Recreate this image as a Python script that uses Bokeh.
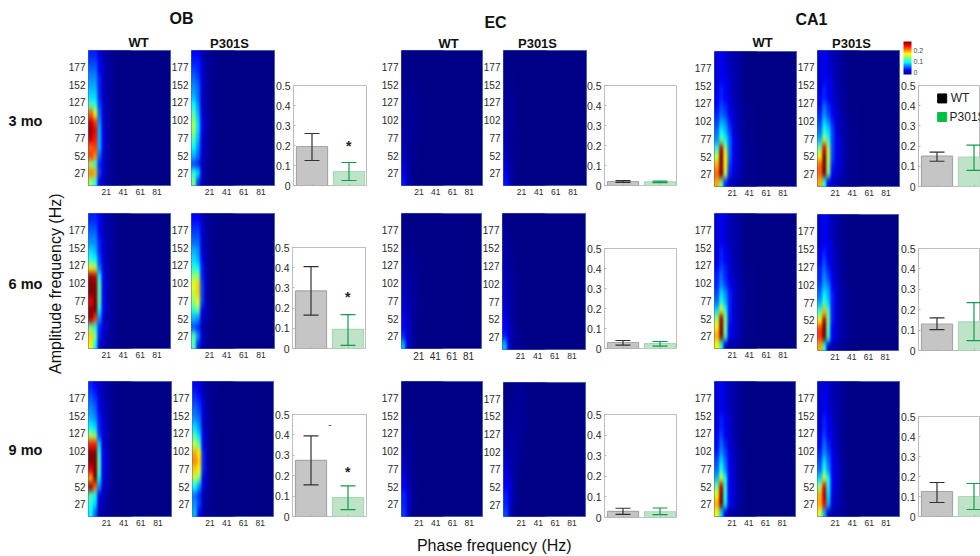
import numpy as np
from bokeh.plotting import figure
from bokeh.layouts import row, column
from bokeh.models import (Range1d, FixedTicker, LinearColorMapper, ColorBar, Whisker, TeeHead,
                          ColumnDataSource)
from bokeh.core.properties import value
from bokeh.embed import file_html
from bokeh.resources import INLINE

# ---- Heat maps: rows run from the top (200 Hz) to the bottom (10 Hz), columns from phase 0 to 40 Hz.
OB_3_WT = [[5,5,3,2,1.6,1.3,1.1,1],[6,6,4,2,1.7,1.3,1.1,1],[7,7,4,2.5,1.7,1.3,1.1,1],[8,8,5,2.5,1.7,1.3,1.1,1],[9,9,5,2.5,1.7,1.3,1.1,1],[10,10,5,2.5,1.7,1.3,1.1,1],[13,12,6,3,1.8,1.3,1.1,1],[22,17,7,3,1.8,1.3,1.1,1],
           [26,23,8,3,1.8,1.3,1.1,1],[27,25,9,3.5,1.8,1.3,1.1,1],[26,24,9,3.5,1.8,1.3,1.1,1],[22,23,9,3.5,1.8,1.3,1.1,1],[23,21,7,3,1.8,1.3,1.1,1],[15,12,5,3,1.7,1.3,1.1,1],[21,20,6,3,1.7,1.3,1.1,1],[15,12,4,2,1.5,1.2,1.1,1]]
OB_3_P = [[4,4,2,1.5,1.3,1.1,1,1],[5,5,3,1.6,1.3,1.1,1,1],[6,5,3,1.7,1.3,1.1,1,1],[7,6,3,1.8,1.3,1.1,1,1],[8,7,3,1.8,1.3,1.1,1,1],[9,7,3,1.8,1.3,1.1,1,1],[11,8,3,1.8,1.3,1.1,1,1],[13,9,3,1.8,1.3,1.1,1,1],
          [15,10,4,2,1.3,1.1,1,1],[15,10,4,2,1.3,1.1,1,1],[13,9,3,1.8,1.3,1.1,1,1],[11,8,3,1.8,1.3,1.1,1,1],[9,7,3,1.8,1.3,1.1,1,1],[6,5,2,1.5,1.2,1.1,1,1],[12,10,3,1.5,1.2,1.1,1,1],[14,6,2,1.4,1.2,1.1,1,1]]
OB_6_WT = [[5,5,4,2.2,1.8,1.5,1.2,1],[6,6,4,2.5,1.8,1.5,1.2,1],[7,7,4,2.5,1.8,1.5,1.2,1],[8,8,5,2.8,1.9,1.5,1.2,1],[10,9,5,3,1.9,1.5,1.2,1],[12,11,6,3,1.9,1.5,1.2,1],[18,16,7,3,1.9,1.5,1.2,1],[27,26,11,4,2,1.5,1.2,1],
           [28,28,13,4,2,1.5,1.2,1],[28,28,13,4,2,1.5,1.2,1],[25,28,13,4,2,1.5,1.2,1],[28,28,11,4,2,1.5,1.2,1],[27,23,8,3,1.9,1.5,1.2,1],[14,11,5,3,1.8,1.5,1.2,1],[19,14,5,3,1.8,1.3,1.1,1],[18,11,3,2,1.5,1.3,1.1,1]]
OB_6_P = [[4,4,2,1.5,1.3,1.1,1,1],[5,5,3,1.6,1.3,1.1,1,1],[6,6,3,1.7,1.3,1.1,1,1],[7,7,3,1.8,1.3,1.1,1,1],[9,8,3,1.8,1.3,1.1,1,1],[10,9,4,1.8,1.3,1.1,1,1],[12,11,5,2,1.3,1.1,1,1],[15,15,5,2,1.3,1.1,1,1],
          [17,19,6,2,1.3,1.1,1,1],[16,19,6,2,1.3,1.1,1,1],[15,17,6,2,1.3,1.1,1,1],[12,14,4,2,1.3,1.1,1,1],[9,8,3,1.8,1.3,1.1,1,1],[6,5,2,1.5,1.2,1.1,1,1],[13,8,3,1.5,1.2,1.1,1,1],[13,5,2,1.4,1.2,1.1,1,1]]
OB_9_WT = [[5,4,3,2,1.7,1.3,1.1,1],[6,5,3,2,1.7,1.3,1.1,1],[7,6,4,2.2,1.7,1.3,1.1,1],[8,7,4,2.5,1.8,1.3,1.1,1],[9,8,5,2.8,1.8,1.3,1.1,1],[11,10,5,3,1.8,1.3,1.1,1],[16,15,6,3,1.8,1.3,1.1,1],[24,24,10,3,1.9,1.3,1.1,1],
           [28,28,12,4,2,1.3,1.1,1],[28,28,13,4,2,1.3,1.1,1],[25,28,13,4,2,1.3,1.1,1],[20,28,11,3,1.9,1.3,1.1,1],[27,22,8,3,1.8,1.3,1.1,1],[13,11,4,2,1.6,1.3,1.1,1],[12,10,3,2,1.5,1.2,1.1,1],[11,7,2,1.5,1.3,1.2,1.1,1]]
OB_9_P = [[4,3,2,1.4,1.2,1.1,1,1],[5,4,2,1.5,1.2,1.1,1,1],[6,5,3,1.6,1.3,1.1,1,1],[7,6,3,1.8,1.3,1.1,1,1],[8,7,3,1.8,1.3,1.1,1,1],[10,8,3,1.8,1.3,1.1,1,1],[13,10,4,2,1.3,1.1,1,1],[16,13,4,2,1.3,1.1,1,1],
          [20,18,5,2,1.3,1.1,1,1],[21,19,5,2,1.3,1.1,1,1],[19,17,5,2,1.3,1.1,1,1],[16,14,4,2,1.3,1.1,1,1],[11,8,3,1.8,1.3,1.1,1,1],[7,5,2,1.5,1.2,1.1,1,1],[8,6,2,1.5,1.2,1.1,1,1],[9,4,2,1.4,1.2,1.1,1,1]]
EC_3_WT = [[1,1,1,1,1,1,1,1],[1,1,1,1,1,1,1,1],[1.1,1.1,1.1,1,1,1,1,1],[1.1,1.1,1.1,1.1,1,1,1,1],[1.2,1.2,1.1,1.1,1,1,1,1],[1.4,1.4,1.3,1.2,1.1,1,1,1],[1.4,1.4,1.3,1.2,1.1,1,1,1],[1.5,1.4,1.3,1.2,1.1,1,1,1],
           [1.6,1.4,1.3,1.2,1.1,1,1,1],[1.7,1.4,1.3,1.2,1.1,1,1,1],[1.8,1.5,1.3,1.2,1.1,1,1,1],[2,1.5,1.3,1.1,1,1,1,1],[2.2,1.5,1.2,1.1,1,1,1,1],[3,1.7,1.2,1.1,1,1,1,1],[3.5,1.8,1.2,1.1,1,1,1,1],[4.5,2,1.2,1,1,1,1,1]]
EC_3_P = [[1,1,1,1,1,1,1,1],[1,1,1,1,1,1,1,1],[1.1,1.1,1,1,1,1,1,1],[1.1,1.1,1.1,1,1,1,1,1],[1.3,1.2,1.1,1,1,1,1,1],[1.5,1.4,1.3,1.1,1,1,1,1],[1.5,1.4,1.3,1.1,1,1,1,1],[1.5,1.4,1.3,1.1,1,1,1,1],
          [1.6,1.4,1.3,1.1,1,1,1,1],[1.7,1.4,1.3,1.1,1,1,1,1],[1.8,1.4,1.2,1.1,1,1,1,1],[2,1.4,1.2,1.1,1,1,1,1],[2.4,1.5,1.2,1.1,1,1,1,1],[3,1.7,1.2,1.1,1,1,1,1],[3.5,1.8,1.2,1.1,1,1,1,1],[4.5,2,1.2,1,1,1,1,1]]
EC_6_WT = [[1,1,1,1,1,1,1,1],[1,1,1,1,1,1,1,1],[1.1,1.1,1,1,1,1,1,1],[1.2,1.1,1.1,1,1,1,1,1],[1.4,1.2,1.2,1.1,1,1,1,1],[1.6,1.5,1.4,1.2,1.1,1,1,1],[1.7,1.5,1.4,1.3,1.1,1,1,1],[1.9,1.6,1.4,1.3,1.1,1,1,1],
           [2.3,1.8,1.5,1.3,1.1,1,1,1],[2.5,1.9,1.5,1.3,1.1,1,1,1],[2.8,2.2,1.6,1.3,1.1,1,1,1],[3,2.4,1.6,1.2,1.1,1,1,1],[3.6,2.6,1.6,1.2,1.1,1,1,1],[4,2.8,1.6,1.2,1,1,1,1],[5,3,1.6,1.2,1,1,1,1],[9,3,1.6,1.1,1,1,1,1]]
EC_6_P = [[1,1,1,1,1,1,1,1],[1.3,1.1,1,1,1,1,1,1],[1.4,1.2,1.1,1,1,1,1,1],[1.5,1.4,1.1,1,1,1,1,1],[1.6,1.4,1.2,1.1,1,1,1,1],[1.7,1.5,1.3,1.1,1,1,1,1],[1.8,1.6,1.4,1.1,1,1,1,1],[2,1.7,1.4,1.1,1,1,1,1],
          [2.4,1.8,1.4,1.1,1,1,1,1],[2.6,1.9,1.4,1.1,1,1,1,1],[2.8,2,1.4,1.1,1,1,1,1],[3,2,1.4,1.2,1,1,1,1],[3.6,2.2,1.4,1.2,1,1,1,1],[4,2.7,1.5,1.2,1,1,1,1],[5,3,1.6,1.3,1.1,1,1,1],[9,3,1.6,1.3,1.1,1,1,1]]
EC_9_WT = [[1,1,1,1,1,1,1,1],[1,1,1,1,1,1,1,1],[1,1,1,1,1,1,1,1],[1.1,1.1,1,1,1,1,1,1],[1.2,1.1,1.1,1,1,1,1,1],[1.4,1.4,1.2,1.1,1,1,1,1],[1.5,1.4,1.3,1.1,1,1,1,1],[1.6,1.4,1.3,1.1,1,1,1,1],
           [1.8,1.5,1.3,1.1,1,1,1,1],[2.4,1.6,1.3,1.1,1,1,1,1],[2.8,1.8,1.3,1.1,1,1,1,1],[3.5,2,1.4,1.1,1,1,1,1],[4,2.6,1.4,1.1,1,1,1,1],[5,3,1.4,1.1,1,1,1,1],[5,3,1.4,1.1,1,1,1,1],[5.5,3,1.2,1,1,1,1,1]]
EC_9_P = [[1,1,1.1,1.3,1.3,1.1,1,1],[1,1.1,1.3,1.4,1.4,1.2,1,1],[1.1,1.3,1.4,1.5,1.4,1.2,1,1],[1.2,1.4,1.5,1.5,1.4,1.2,1,1],[1.4,1.5,1.5,1.5,1.4,1.2,1,1],[1.5,1.6,1.6,1.5,1.3,1.1,1,1],[1.6,1.6,1.6,1.5,1.3,1.1,1,1],[1.8,1.7,1.6,1.4,1.2,1,1,1],
          [2.2,1.8,1.6,1.4,1.2,1,1,1],[2.6,2,1.6,1.3,1.1,1,1,1],[3,2.4,1.6,1.2,1.1,1,1,1],[3.6,2.6,1.6,1.2,1,1,1,1],[4,3,1.6,1.2,1,1,1,1],[5,3,1.6,1.2,1,1,1,1],[5,3,1.4,1.1,1,1,1,1],[6,2.4,1.2,1,1,1,1,1]]
CA1_3_WT = [[3,4,3,2.3,1.9,1.6,1.3,1],[3,4,3,2.4,1.9,1.6,1.3,1],[3,4,3,2.6,2,1.6,1.3,1],[3,4,4,2.8,2,1.6,1.3,1],[3,5,4,3,2,1.7,1.3,1],[4,5,4,3,2.2,1.7,1.3,1],[4,6,5,3.6,2.5,1.8,1.5,1.1],[5,7,6,4,2.7,1.9,1.5,1.1],
            [6,9,8,5,3,2,1.6,1.1],[7,11,9,6,3,2,1.6,1.1],[8,14,11,7,3.6,2.5,1.7,1.2],[12,26,15,7,3.6,2.5,1.7,1.2],[16,28,18,7,3.6,2.5,1.7,1.2],[20,28,18,6,3.4,2.5,1.7,1.2],[22,28,16,5,3,2.2,1.7,1.2],[20,14,5,3,2,1.7,1.4,1.1]]
CA1_3_P = [[3,4,3,2.2,1.8,1.4,1.2,1],[3,4,3,2.3,1.8,1.4,1.2,1],[3,4,3,2.5,1.9,1.5,1.2,1],[3,4,4,2.8,2,1.6,1.2,1],[3,5,4,3,2,1.7,1.3,1],[4,5,4,3,2.2,1.7,1.3,1],[4,7,5,3.6,2.5,1.8,1.4,1.1],[5,8,6,4,2.7,1.9,1.5,1.1],
           [6,10,8,5,3,2,1.6,1.1],[7,12,10,6,3,2,1.6,1.1],[9,16,12,6,3.6,2.5,1.7,1.2],[14,25,15,6,3.6,2.5,1.7,1.2],[18,28,16,6,3.6,2.5,1.7,1.2],[22,28,15,5,3.2,2.5,1.7,1.2],[22,28,14,4,3,2.2,1.7,1.2],[20,12,4,3,2,1.7,1.4,1.1]]
CA1_6_WT = [[3,4,3,2.3,1.9,1.6,1.3,1],[3,4,3,2.3,1.9,1.6,1.3,1],[3,4,3,2.4,1.9,1.6,1.3,1],[3,4,3,2.6,1.9,1.6,1.3,1],[3,5,4,2.8,2,1.6,1.3,1],[3,5,4,3,2.1,1.6,1.3,1],[4,6,5,3,2.3,1.7,1.4,1.1],[5,7,5,3.6,2.4,1.8,1.5,1.1],
            [5,8,6,4,2.8,2,1.6,1.1],[6,10,8,5,3,2,1.6,1.1],[7,12,9,5,3,2,1.6,1.1],[10,18,12,5,3,2,1.6,1.1],[15,27,14,5,3,2,1.6,1.1],[18,28,14,4,3,2.4,1.6,1.1],[20,28,13,4,3,2,1.6,1.1],[18,12,3,2,1.8,1.5,1.3,1]]
CA1_6_P = [[3,4,3,2.2,1.8,1.4,1.2,1],[3,4,3,2.3,1.8,1.4,1.2,1],[3,4,3,2.4,1.8,1.4,1.2,1],[3,4,4,2.6,1.9,1.5,1.2,1],[4,5,4,3,2,1.6,1.2,1],[4,6,4,3,2.1,1.6,1.2,1],[5,7,5,3,2.3,1.7,1.3,1],[5,8,6,4,2.4,1.8,1.3,1],
           [6,9,8,4,2.8,1.9,1.4,1],[7,11,9,5,3,2,1.6,1.1],[9,13,10,5,3,2,1.6,1.1],[13,20,13,5,3,2,1.6,1.1],[18,27,14,5,3,2,1.6,1.1],[23,28,13,4,3,2,1.6,1.1],[23,28,12,4,3,2,1.6,1.1],[20,12,3,2,1.8,1.4,1.2,1]]
CA1_9_WT = [[3,4,3,2.3,1.9,1.6,1.3,1],[3,4,3,2.3,1.9,1.6,1.3,1],[3,4,3,2.3,1.9,1.6,1.3,1],[3,4,3,2.5,1.9,1.6,1.3,1],[3,5,4,2.7,2,1.6,1.3,1],[3,5,4,2.8,2,1.6,1.3,1],[4,6,4,3,2.2,1.6,1.3,1],[4,7,5,3,2.2,1.6,1.3,1],
            [5,8,6,4,2.5,1.7,1.3,1],[6,10,7,4,2.8,1.8,1.3,1],[7,12,8,4,3,1.8,1.3,1],[9,17,11,4,3,1.8,1.3,1],[14,26,12,4,3,2,1.5,1],[18,28,12,4,3,2,1.5,1],[20,28,11,4,3,2,1.5,1],[18,10,3,2,1.8,1.4,1.2,1]]
CA1_9_P = [[3,3,3,2.2,1.8,1.4,1.2,1],[3,4,3,2.2,1.8,1.4,1.2,1],[3,4,3,2.2,1.8,1.4,1.2,1],[3,4,3,2.3,1.8,1.4,1.2,1],[3,5,4,2.5,1.9,1.4,1.2,1],[3,5,4,2.8,2,1.4,1.2,1],[4,6,4,3,2.1,1.4,1.2,1],[4,7,5,3,2.2,1.5,1.2,1],
           [5,8,6,4,2.5,1.7,1.2,1],[6,10,7,4,2.6,1.7,1.2,1],[7,12,8,4,2.8,1.7,1.2,1],[10,17,11,4,2.8,1.7,1.2,1],[15,25,11,4,2.8,1.7,1.2,1],[20,27,10,3,2.6,1.7,1.2,1],[20,25,9,3,2.6,1.7,1.2,1],[17,9,3,2,1.8,1.4,1.2,1]]

# ---- Bars: values per age (3, 6, 9 mo)
OB_wt = [0.195, 0.285, 0.275]
OB_wt_hi = [0.26, 0.405, 0.395]
OB_wt_lo = [0.125, 0.165, 0.155]
OB_p = [0.07, 0.095, 0.093]
OB_p_hi = [0.115, 0.168, 0.15]
OB_p_lo = [0.025, 0.015, 0.034]
EC_wt = [0.02, 0.03, 0.03]
EC_wt_hi = [0.024, 0.04, 0.045]
EC_wt_lo = [0.016, 0.017, 0.015]
EC_p = [0.018, 0.024, 0.028]
EC_p_hi = [0.022, 0.035, 0.046]
EC_p_lo = [0.014, 0.012, 0.014]
CA1_wt = [0.15, 0.13, 0.125]
CA1_wt_hi = [0.17, 0.16, 0.17]
CA1_wt_lo = [0.125, 0.102, 0.07]
CA1_p = [0.145, 0.14, 0.1]
CA1_p_hi = [0.205, 0.235, 0.165]
CA1_p_lo = [0.08, 0.048, 0.035]
star_y = [0.2, 0.255, 0.22]

phase_ticks = [21, 41, 61, 81]
amp_ticks = [27, 52, 77, 102, 127, 152, 177]
bar_ticks = [0, 0.1, 0.2, 0.3, 0.4, 0.5]
bar_labels = ["WT", "P301S"]

FONT = "Liberation Sans"
TICK = "#2a2a2a"
OV = 6  # overlap of a figure's transparent left border over its neighbour, so tick labels keep their place

def jet(n=256):
    t = np.linspace(0, 1, n)
    r = np.clip(np.minimum(4*t-1.5, -4*t+4.5), 0, 1)
    g = np.clip(np.minimum(4*t-0.5, -4*t+3.5), 0, 1)
    b = np.clip(np.minimum(4*t+0.5, -4*t+2.5), 0, 1)
    return ["#%02x%02x%02x" % (int(a*255), int(c*255), int(d*255)) for a, c, d in zip(r, g, b)]

PAL = jet()
mapper = LinearColorMapper(palette=PAL, low=0.007, high=0.28)
scale_mapper = LinearColorMapper(palette=PAL, low=-0.018, high=0.28)
BACK = PAL[int(255*0.003/0.273)]

def blank(width, height, x0, x1, y0, y1):
    p = figure(width=width, height=height, x_range=Range1d(x0, x1), y_range=Range1d(y1, y0),
               output_backend="svg", toolbar_location=None, min_border=0)
    p.frame_align = False
    p.axis.visible = False
    p.grid.visible = False
    p.outline_line_color = None
    p.border_fill_alpha = 0
    p.background_fill_alpha = 0
    return p

def put(p, xs, ys, texts, size, bold=False, angle=0.0, color="#111111"):
    src = ColumnDataSource(dict(x=xs, y=ys, t=texts))
    p.text("x", "y", text="t", source=src, text_font=value(FONT), text_font_size=size,
           text_font_style="bold" if bold else "normal", text_align="center", text_baseline="middle",
           angle=angle, text_color=color)

def heat(mat, left, prev, x1, top, y0, y1, bottom, xsize="8.5px"):
    width = x1 - prev + OV
    height = bottom - top
    p = figure(width=width, height=height, x_range=Range1d(0, 98), y_range=Range1d(10, 200),
               output_backend="svg", toolbar_location=None, margin=(0, 0, 0, -OV),
               min_border_left=left - prev + OV, min_border_right=0,
               min_border_top=y0 - top, min_border_bottom=bottom - y1)
    p.frame_align = False
    p.border_fill_alpha = 0
    p.grid.visible = False
    arr = np.pad(np.array(mat, dtype=float)[::-1] / 100.0, 2, mode="edge")
    p.background_fill_color = BACK
    p.image(image=[arr], x=-10, y=10 - 2 * 190 / 16, dw=60, dh=190 + 4 * 190 / 16, color_mapper=mapper)
    p.xaxis.ticker = FixedTicker(ticks=phase_ticks)
    p.yaxis.ticker = FixedTicker(ticks=amp_ticks)
    for ax, sz in ((p.xaxis, xsize), (p.yaxis, "10px")):
        ax.axis_line_color = None
        ax.major_tick_in = 0
        ax.major_tick_out = 0
        ax.major_tick_line_color = None
        ax.minor_tick_line_color = None
        ax.major_label_text_font = FONT
        ax.major_label_text_font_size = sz
        ax.major_label_text_color = TICK
    p.xaxis.major_label_standoff = 3
    p.yaxis.major_label_standoff = 3
    p.outline_line_color = "#4a62a8"
    return p

def bars(i, wt, wh, wl, pv, ph, pl, left, prev, x1, top, y0, y1, bottom, star=None, legend=False, clip=None, dash=None, shift=True):
    right = clip if clip else x1
    p = figure(width=right - prev + OV, height=bottom - top,
               x_range=Range1d(0, 2.0 * (right - left) / 74.0), y_range=Range1d(0, 0.5),
               output_backend="svg", toolbar_location=None, margin=(0, 0, 0, -OV if shift else 0),
               min_border_left=left - prev + OV, min_border_right=0,
               min_border_top=y0 - top, min_border_bottom=bottom - y1)
    p.frame_align = False
    p.border_fill_alpha = 0
    p.grid.visible = False
    src = ColumnDataSource(dict(x=[0.5], y=[wt[i]], hi=[wh[i]], lo=[wl[i]]))
    sp = ColumnDataSource(dict(x=[1.5], y=[pv[i]], hi=[ph[i]], lo=[pl[i]]))
    p.vbar(x="x", top="y", bottom=0, width=0.84, source=src, fill_color="#c5c5c5", line_color="#a6a6a6", line_width=1.2)
    p.vbar(x="x", top="y", bottom=0, width=0.84, source=sp, fill_color="#bfe3c8", line_color="#a9d8b5", line_width=1.2)
    for s, col in ((src, "#303030"), (sp, "#139a4c")):
        p.add_layout(Whisker(source=s, base="x", upper="hi", lower="lo", line_color=col, line_width=1.2, level="overlay",
                             upper_head=TeeHead(size=15, line_color=col, line_width=1.2),
                             lower_head=TeeHead(size=15, line_color=col, line_width=1.2)))
    p.yaxis.ticker = FixedTicker(ticks=bar_ticks)
    p.yaxis.major_label_overrides = {0: "0"}
    p.yaxis.major_label_text_font = FONT
    p.yaxis.major_label_text_font_size = "10.5px"
    p.yaxis.major_label_text_color = TICK
    p.yaxis.major_label_standoff = 3
    p.yaxis.axis_line_color = None
    p.yaxis.major_tick_in = 2
    p.yaxis.major_tick_out = 0
    p.yaxis.major_tick_line_color = "#b5b5b5"
    p.yaxis.minor_tick_line_color = None
    p.xaxis.ticker = FixedTicker(ticks=[0.5, 1.5])
    p.xaxis.major_label_overrides = {0.5: "", 1.5: ""}
    p.xaxis.axis_line_color = None
    p.xaxis.major_tick_in = 2
    p.xaxis.major_tick_out = 0
    p.xaxis.major_tick_line_color = "#b5b5b5"
    p.xaxis.minor_tick_line_color = None
    p.outline_line_color = "#bdbdbd"
    if star is not None:
        p.text([1.49], [star], text=["*"], text_font=value(FONT), text_font_style="bold", text_font_size="14px",
               text_align="center", text_baseline="middle", text_color="#222222")
    if dash is not None:
        p.text([1.01], [dash], text=["-"], text_font=value(FONT), text_font_style="bold", text_font_size="8px",
               text_align="center", text_baseline="middle", text_color="#333333")
    if legend:
        p.scatter([0.64], [0.436], marker="square", size=9, fill_color="black", line_color="black")
        p.scatter([0.64], [0.344], marker="square", size=9, fill_color="#00c040", line_color="#00c040")
        p.text([0.87, 0.84], [0.436, 0.344], text=bar_labels, text_font=value(FONT), text_font_size="12px",
               text_baseline="middle", text_color="#222222")
    return p

# left strip with age labels and the amplitude label
left = blank(68, 556, 0, 68, 0, 556)
put(left, [25, 25, 25], [120, 283, 449], ["3 mo", "6 mo", "9 mo"], "14.5px", bold=True)
put(left, [55], [281], ["Amplitude  frequency (Hz)"], "16px", angle=np.pi/2)

# header with region and genotype titles
head = blank(832, 50, 68, 900, 0, 50)
put(head, [181, 495, 811], [18, 22, 19], ["OB", "EC", "CA1"], "16px", bold=True)
put(head, [138, 229, 448, 537, 762, 851], [42, 43, 43, 43, 42, 43],
    ["WT", "P301S", "WT", "P301S", "WT", "P301S"], "13px", bold=True)

# colour scale
cb_fig = blank(86, 79, 894, 980, 0, 79)
cb_fig.add_layout(ColorBar(color_mapper=scale_mapper, width=8, height=33, location=(9, 5), padding=0, margin=0,
                           ticker=FixedTicker(ticks=[0, 0.1, 0.2]), major_label_overrides={0: "0"},
                           major_label_text_font=FONT, major_label_text_font_size="7px",
                           major_label_text_color="#444444", major_tick_line_color=None,
                           bar_line_color=None, background_fill_alpha=0, label_standoff=2), "center")

# row 1, y 50..205
r1 = row(
    heat(OB_3_WT, 88, 68, 171, 50, 50, 185, 205),
    heat(OB_3_P, 191, 171, 275, 50, 50, 185, 205),
    bars(0, OB_wt, OB_wt_hi, OB_wt_lo, OB_p, OB_p_hi, OB_p_lo, 293, 275, 367, 50, 85, 185, 205, star=star_y[0]),
    heat(EC_3_WT, 401, 367, 483, 50, 50, 185, 205),
    heat(EC_3_P, 503, 483, 587, 50, 50, 185, 205),
    bars(0, EC_wt, EC_wt_hi, EC_wt_lo, EC_p, EC_p_hi, EC_p_lo, 604, 587, 677, 50, 85, 185, 205),
    heat(CA1_3_WT, 714, 677, 797, 50, 51, 186, 205),
    heat(CA1_3_P, 817, 797, 900, 50, 50, 186, 205),
)
top_part = row(column(head, r1),
               column(cb_fig, bars(0, CA1_wt, CA1_wt_hi, CA1_wt_lo, CA1_p, CA1_p_hi, CA1_p_lo, 918, 900, 992, 79, 85, 186, 205, legend=True, clip=980, shift=False), margin=(0, 0, 0, -OV)))
# row 2, y 205..372
r2 = row(
    heat(OB_6_WT, 88, 68, 171, 205, 213, 348, 372),
    heat(OB_6_P, 191, 171, 275, 205, 213, 348, 372),
    bars(1, OB_wt, OB_wt_hi, OB_wt_lo, OB_p, OB_p_hi, OB_p_lo, 292, 275, 366, 205, 247, 348, 372, star=star_y[1]),
    heat(EC_6_WT, 401, 366, 482, 205, 213, 348, 372, xsize="10px"),
    heat(EC_6_P, 502, 482, 586, 205, 213, 349, 372),
    bars(1, EC_wt, EC_wt_hi, EC_wt_lo, EC_p, EC_p_hi, EC_p_lo, 604, 586, 677, 205, 248, 348, 372),
    heat(CA1_6_WT, 714, 677, 797, 205, 213, 348, 372),
    heat(CA1_6_P, 817, 797, 899, 205, 214, 350, 372),
    bars(1, CA1_wt, CA1_wt_hi, CA1_wt_lo, CA1_p, CA1_p_hi, CA1_p_lo, 918, 899, 992, 205, 248, 350, 372, clip=980),
)
# row 3, y 372..532
r3 = row(
    heat(OB_9_WT, 88, 68, 172, 372, 381, 516, 532),
    heat(OB_9_P, 192, 172, 274, 372, 381, 516, 532),
    bars(2, OB_wt, OB_wt_hi, OB_wt_lo, OB_p, OB_p_hi, OB_p_lo, 292, 274, 367, 372, 414, 516, 532, star=star_y[2], dash=0.451),
    heat(EC_9_WT, 401, 367, 483, 372, 381, 516, 532),
    heat(EC_9_P, 503, 483, 586, 372, 382, 516, 532),
    bars(2, EC_wt, EC_wt_hi, EC_wt_lo, EC_p, EC_p_hi, EC_p_lo, 604, 586, 677, 372, 414, 517, 532),
    heat(CA1_9_WT, 714, 677, 796, 372, 381, 516, 532),
    heat(CA1_9_P, 817, 796, 900, 372, 381, 516, 532),
    bars(2, CA1_wt, CA1_wt_hi, CA1_wt_lo, CA1_p, CA1_p_hi, CA1_p_lo, 918, 900, 992, 372, 416, 516, 532, clip=980),
)
foot = blank(912, 24, 68, 980, 532, 556)
put(foot, [496], [545], ["Phase frequency  (Hz)"], "16px")

root = row(left, column(top_part, r2, r3, foot, spacing=0), spacing=0)

# the rendered heat-map images get the soft look of the reference
SOFTEN = """<script>
(function () {
  var NS = 'http://www.w3.org/2000/svg', n = 0;
  function walk(r, out) {
    r.querySelectorAll('*').forEach(function (el) {
      if (el.shadowRoot) walk(el.shadowRoot, out);
      if (el.tagName === 'image') out.push(el);
    });
  }
  setInterval(function () {
    var out = []; walk(document, out);
    out.forEach(function (im) {
      if (im.getAttribute('filter')) return;
      if (parseFloat(im.getAttribute('width')) < 20) return;
      var svg = im.ownerSVGElement; if (!svg) return;
      var id = 'soft' + (n++);
      var f = document.createElementNS(NS, 'filter');
      f.setAttribute('id', id);
      f.setAttribute('color-interpolation-filters', 'sRGB');
      var g = document.createElementNS(NS, 'feGaussianBlur');
      g.setAttribute('stdDeviation', '1.2 3');
      f.appendChild(g);
      var d = document.createElementNS(NS, 'defs');
      d.appendChild(f); svg.appendChild(d);
      im.setAttribute('filter', 'url(#' + id + ')');
    });
  }, 100);
})();
</script>"""
html = file_html(root, INLINE)
head_part, tail_part = html.rsplit("</body>", 1)
open("out.html", "w").write(head_part + SOFTEN + "</body>" + tail_part)
